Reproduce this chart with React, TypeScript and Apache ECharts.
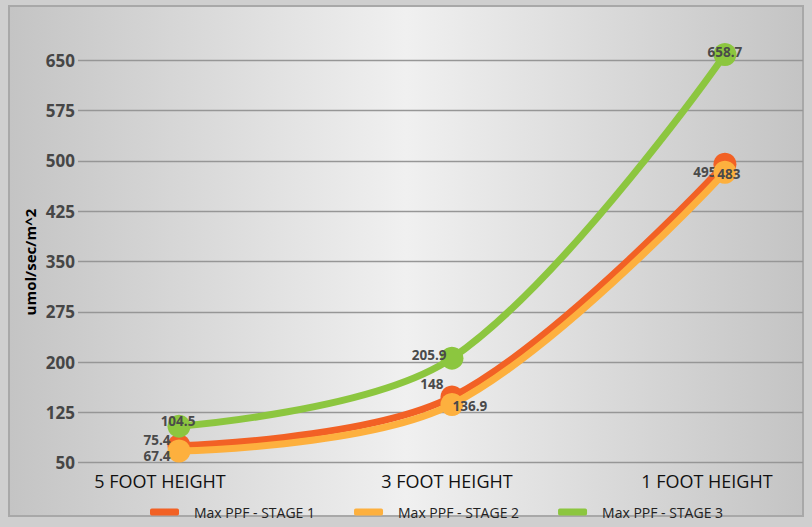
import React, { useEffect, useRef } from "react";
import * as echarts from "echarts";

const categories = ["5 FOOT HEIGHT", "3 FOOT HEIGHT", "1 FOOT HEIGHT"];
const stage1 = [75.4, 148, 495];
const stage2 = [67.4, 136.9, 483];
const stage3 = [104.5, 205.9, 658.7];
const seriesNames = ["Max PPF - STAGE 1", "Max PPF - STAGE 2", "Max PPF - STAGE 3"];
const colors = ["#F26125", "#FDB03E", "#8CC63F"];
const yTitle = "umol/sec/m^2";

const labelCfg: any[][] = [
  [
    { position: "left", distance: -3, offset: [0, -6] },
    { position: "left", distance: -3, offset: [0, -13] },
    { position: "left", distance: -3, offset: [0, 8] },
  ],
  [
    { position: "left", distance: -3, offset: [0, 5] },
    { position: "inside", offset: [18, 2] },
    { position: "inside", offset: [4, 2] },
  ],
  [
    { position: "inside", offset: [-1, -5] },
    { position: "left", distance: -6, offset: [0, -3] },
    { position: "inside", offset: [0, -2] },
  ],
];

export default function App() {
  const ref = useRef<HTMLDivElement>(null);
  useEffect(() => {
    if (!ref.current) return;
    const chart = echarts.init(ref.current, undefined, { renderer: "svg" });
    const all = [stage1, stage2, stage3];
    const series = all.map((vals, si) => ({
      name: seriesNames[si],
      type: "line",
      smooth: 0.35,
      clip: false,
      symbol: "circle",
      symbolSize: 23,
      color: colors[si],
      lineStyle: { width: 7, color: colors[si] },
      itemStyle: { color: colors[si] },
      z: 3 + si,
      data: vals.map((v, i) => ({
        value: [i, v],
        label: {
          show: true,
          ...labelCfg[si][i],
          formatter: String(v),
          color: "#4a4a4a",
          fontFamily: "Open Sans",
          fontWeight: "bold",
          fontSize: 13.5,
          lineHeight: 14,
        },
      })),
    }));
    chart.setOption({
      animation: false,
      graphic: [
        {
          type: "rect",
          z: -10,
          silent: true,
          shape: { x: 9, y: 6, width: 794, height: 510 },
          style: {
            fill: new echarts.graphic.LinearGradient(0, 0, 1, 0, [
              { offset: 0, color: "#c4c4c4" },
              { offset: 0.5, color: "#f0f0f0" },
              { offset: 1, color: "#c4c4c4" },
            ]),
            stroke: "#a8a8a8",
            lineWidth: 2,
          },
        },
        {
          type: "text",
          x: 30,
          y: 262,
          rotation: Math.PI / 2,
          style: {
            text: yTitle,
            fill: "#000",
            font: "bold 15px 'Open Sans'",
            align: "center",
            verticalAlign: "middle",
          },
        },
      ],
      grid: { left: 78, right: 9, top: 60.3, bottom: 64.3, containLabel: false },
      xAxis: {
        type: "value",
        min: -0.37,
        max: 2.286,
        splitLine: { show: false },
        axisTick: { show: false },
        axisLine: { show: false },
        axisLabel: {
          margin: 9,
          showMinLabel: false,
          showMaxLabel: false,
          formatter: (v: number) => {
            const r = Math.round(v);
            if (Math.abs(v - r) > 1e-6 || r < 0 || r > 2) return "";
            return "{c" + r + "|" + categories[r] + "}";
          },
          rich: {
            c0: { fontFamily: "Open Sans", fontSize: 18, color: "#111", padding: [0, 38, 0, 0] },
            c1: { fontFamily: "Open Sans", fontSize: 18, color: "#111", padding: [0, 10, 0, 0] },
            c2: { fontFamily: "Open Sans", fontSize: 18, color: "#111", padding: [0, 36, 0, 0] },
          },
        },
      },
      yAxis: {
        type: "value",
        min: 50,
        max: 650,
        interval: 75,
        axisLine: { show: false },
        axisTick: { show: false },
        splitLine: { lineStyle: { color: "#969696", width: 1.3 } },
        axisLabel: {
          margin: 3,
          color: "#464646",
          fontFamily: "Open Sans",
          fontWeight: "bold",
          fontSize: 17,
        },
      },
      legend: {
        left: 145,
        top: 500,
        itemWidth: 29,
        itemHeight: 7,
        itemGap: 39,
        icon: "roundRect",
        data: seriesNames,
        textStyle: {
          fontFamily: "Open Sans",
          fontSize: 14,
          color: "#222",
          padding: [0, 0, 0, 10],
        },
      },
      series,
    });
    return () => chart.dispose();
  }, []);
  return (
    <div
      ref={ref}
      style={{
        position: "fixed",
        left: 0,
        top: 0,
        width: 812,
        height: 527,
        background: "#cfcfcf",
      }}
    />
  );
}
